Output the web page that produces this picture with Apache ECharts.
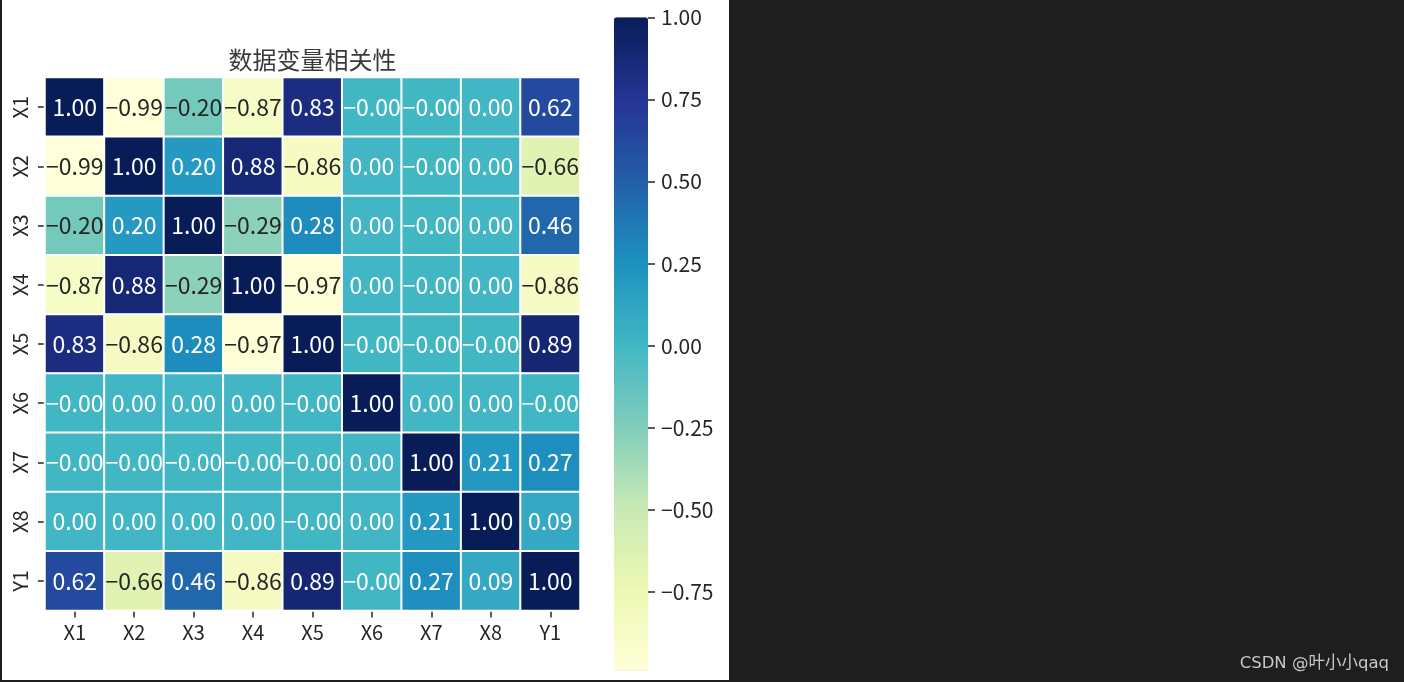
<!DOCTYPE html>
<html>
<head>
<meta charset="utf-8">
<script src="https://cdn.jsdelivr.net/npm/echarts@6/dist/echarts.min.js"></script>
<style>html,body{margin:0;padding:0;background:#1e1e1e}#c{width:1404px;height:682px}</style>
</head>
<body>
<div id="c"></div>
<script>
// ---- data ----
const labels = ['X1','X2','X3','X4','X5','X6','X7','X8','Y1'];
const title = '数据变量相关性';
// -0.001 stands for values shown as "-0.00"
const rowX1 = [1.00, -0.99, -0.20, -0.87, 0.83, -0.001, -0.001, 0.00, 0.62];
const rowX2 = [-0.99, 1.00, 0.20, 0.88, -0.86, 0.00, -0.001, 0.00, -0.66];
const rowX3 = [-0.20, 0.20, 1.00, -0.29, 0.28, 0.00, -0.001, 0.00, 0.46];
const rowX4 = [-0.87, 0.88, -0.29, 1.00, -0.97, 0.00, -0.001, 0.00, -0.86];
const rowX5 = [0.83, -0.86, 0.28, -0.97, 1.00, -0.001, -0.001, -0.001, 0.89];
const rowX6 = [-0.001, 0.00, 0.00, 0.00, -0.001, 1.00, 0.00, 0.00, -0.001];
const rowX7 = [-0.001, -0.001, -0.001, -0.001, -0.001, 0.00, 1.00, 0.21, 0.27];
const rowX8 = [0.00, 0.00, 0.00, 0.00, -0.001, 0.00, 0.21, 1.00, 0.09];
const rowY1 = [0.62, -0.66, 0.46, -0.86, 0.89, -0.001, 0.27, 0.09, 1.00];
const colorbarTicks = [-0.75, -0.50, -0.25, 0.00, 0.25, 0.50, 0.75, 1.00];
const vMin = -0.99, vMax = 1.00;
const ylgnbu = ['#ffffd9','#edf8b1','#c7e9b4','#7fcdbb','#41b6c4','#1d91c0','#225ea8','#253494','#081d58'];
const watermark = 'CSDN @叶小小qaq';

const rows = [rowX1,rowX2,rowX3,rowX4,rowX5,rowX6,rowX7,rowX8,rowY1];
const fmt = v => v.toFixed(2).replace('-', '\u2212');

const data = [];
rows.forEach((r, yi) => r.forEach((v, xi) => {
  data.push({value: [xi, yi, v], label: {color: v < -0.1 ? '#262626' : '#ffffff'}});
}));

const GL = 45, GT = 77.5, GW = 535, GH = 533;
const CBL = 614, CBT = 17.3, CBW = 34, CBH = 653.4;
const font = '"Noto Sans CJK SC", "DejaVu Sans", sans-serif';

const chart = echarts.init(document.getElementById('c'));
chart.setOption({
  backgroundColor: '#1e1e1e',
  animation: false,
  graphic: [
    {type: 'rect', z: -100, shape: {x: 2, y: 0, width: 727, height: 680}, style: {fill: '#ffffff'}},
    {type: 'text', z: 10, x: GL + GW / 2, y: 60, style: {text: title, font: '24px ' + font, fill: '#3a3a3a', textAlign: 'center', textVerticalAlign: 'middle'}},
    {type: 'text', z: 10, x: 1389, y: 664, style: {text: watermark, font: '16.5px "DejaVu Sans", "Noto Sans CJK SC", sans-serif', fill: '#c8c8c8', textAlign: 'right', textVerticalAlign: 'middle'}}
  ],
  grid: [
    {left: GL, top: GT, width: GW, height: GH},
    {left: CBL, top: CBT, width: CBW, height: CBH}
  ],
  xAxis: [
    {type: 'category', gridIndex: 0, data: labels, position: 'bottom',
     axisLine: {show: false}, splitLine: {show: false},
     axisTick: {show: true, alignWithLabel: true, length: 7, lineStyle: {color: '#262626', width: 1.5}},
     axisLabel: {fontFamily: font, fontSize: 20, color: '#262626', margin: 12}},
    {type: 'value', gridIndex: 1, show: false, min: 0, max: 1}
  ],
  yAxis: [
    {type: 'category', gridIndex: 0, data: labels, inverse: true,
     axisLine: {show: false}, splitLine: {show: false},
     axisTick: {show: true, alignWithLabel: true, length: 7, lineStyle: {color: '#262626', width: 1.5}},
     axisLabel: {fontFamily: font, fontSize: 20, color: '#262626', rotate: 90, margin: 15}},
    {type: 'value', gridIndex: 1, position: 'right', min: vMin, max: vMax,
     axisLine: {show: false, onZero: false}, splitLine: {show: false},
     axisTick: {show: true, length: 7, customValues: colorbarTicks, lineStyle: {color: '#262626', width: 1.5}},
     axisLabel: {show: true, customValues: colorbarTicks, fontFamily: font, fontSize: 21, color: '#262626', margin: 13,
                 formatter: v => fmt(v)}}
  ],
  visualMap: {
    type: 'continuous', seriesIndex: 0, min: vMin, max: vMax, calculable: false,
    orient: 'vertical', left: CBL, top: CBT, itemWidth: CBW, itemHeight: CBH,
    text: null, showLabel: false, padding: 0, hoverLink: false,
    inRange: {color: ylgnbu}
  },
  series: [{
    type: 'heatmap', xAxisIndex: 0, yAxisIndex: 0, data: data,
    itemStyle: {borderColor: '#ffffff', borderWidth: 2},
    label: {show: true, fontFamily: font, fontSize: 23, formatter: p => fmt(p.value[2])},
    emphasis: {disabled: true}
  }]
});
</script>
</body>
</html>
